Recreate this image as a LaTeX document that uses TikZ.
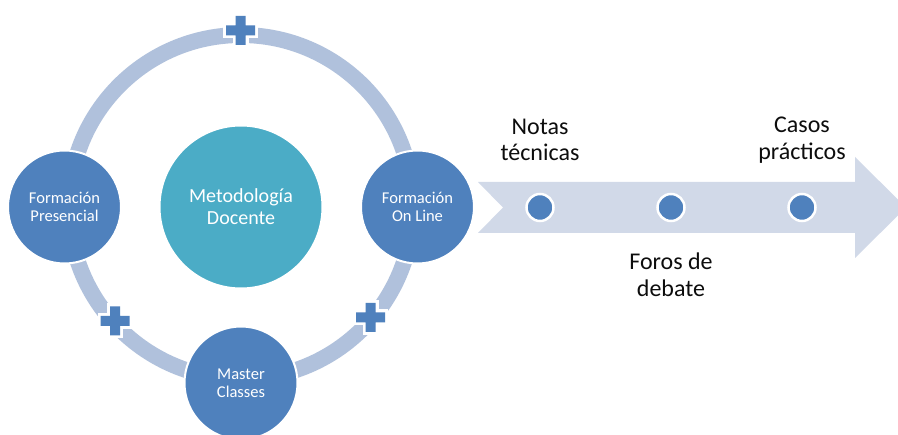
\documentclass[tikz,border=0pt]{standalone}
\usepackage{fontspec}
\setmainfont{Carlito}
\definecolor{ringc}{HTML}{B0C1DC}
\definecolor{nodeblue}{HTML}{4F81BD}
\definecolor{tealc}{HTML}{4BACC6}
\definecolor{arrowc}{HTML}{D1D9E8}
\definecolor{txt}{HTML}{0D0D0D}
\tikzset{
  bigcirc/.style={circle, fill=nodeblue, draw=white, line width=2pt, minimum size=113pt, inner sep=0pt, align=center, text=white, font=\fontsize{16.5}{18}\selectfont},
  centcirc/.style={circle, fill=tealc, draw=white, line width=2pt, minimum size=163pt, inner sep=0pt, align=center, text=white, font=\fontsize{20}{22}\selectfont},
  dotc/.style={circle, fill=nodeblue, draw=white, line width=2.5pt, minimum size=27pt, inner sep=0pt},
  lbl/.style={align=center, text=txt, font=\fontsize{24}{26.5}\selectfont, inner sep=0pt},
  plusshape/.pic={\path[fill=nodeblue, preaction={draw=white, line width=6pt}] (-14.5,-5)--(-5,-5)--(-5,-14.5)--(5,-14.5)--(5,-5)--(14.5,-5)--(14.5,5)--(5,5)--(5,14.5)--(-5,14.5)--(-5,5)--(-14.5,5)--cycle;}
}
\begin{document}
\begin{tikzpicture}[x=1pt,y=-1pt]
\useasboundingbox (0,0) rectangle (898,435);
\clip (0,0) rectangle (898,435);
\fill[white] (0,0) rectangle (898,435);
% ring
\coordinate (rc) at (241,207);
\draw[ringc, line width=16pt] (rc) circle (172pt);
% pluses
\pic at (240.5,30.5) {plusshape};
\pic at (115,321) {plusshape};
\pic at (370.5,317.5) {plusshape};
% arrow
\fill[arrowc] (478,182) -- (855,182) -- (855,157) -- (906,207.5) -- (855,258) -- (855,233) -- (478,233) -- (503,207.5) -- cycle;
% circles
\node[centcirc] (met) at (241,207) {Metodología\\Docente};
\node[bigcirc] (pres) at (64.5,207) {Formación\\Presencial};
\node[bigcirc] (onl) at (417.5,207) {Formación\\On Line};
\node[bigcirc] (mast) at (241,383) {Master\\Classes};
% dots
\node[dotc] (d1) at (540,207.5) {};
\node[dotc] (d2) at (671,207.5) {};
\node[dotc] (d3) at (802,207.5) {};
% labels
\node[lbl] (l1) at (540,140) {Notas\\técnicas};
\node[lbl] (l2) at (671,275) {Foros de\\debate};
\node[lbl] (l3) at (802,140) {Casos\\prácticos};
\end{tikzpicture}
\end{document}
